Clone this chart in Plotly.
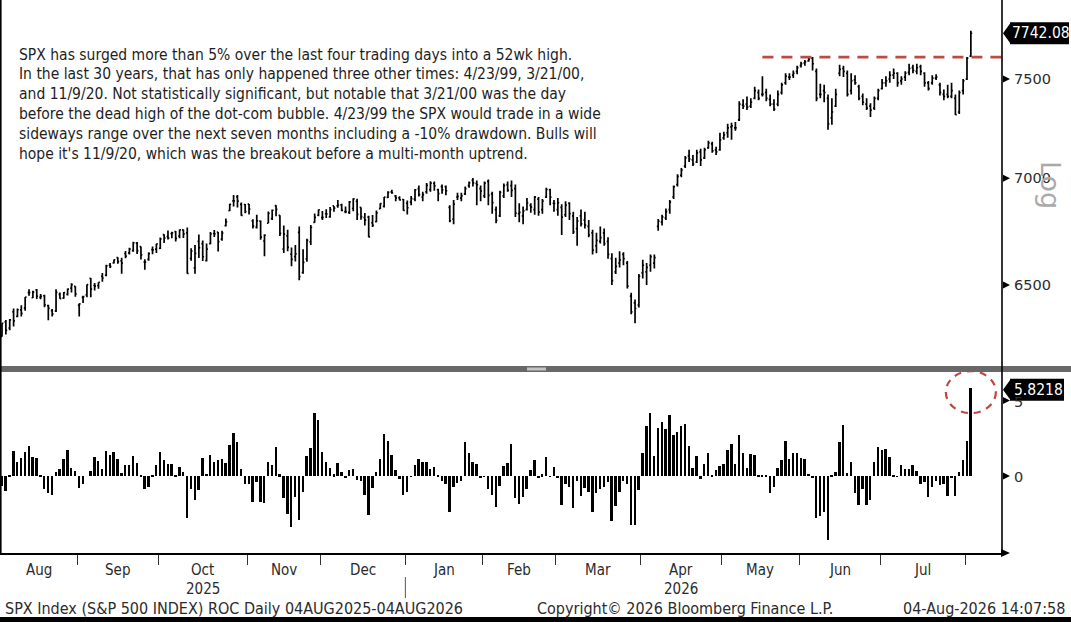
import math
import pandas as pd
import plotly.graph_objects as go

# ---------------- data ----------------
holidays = ["2025-09-01", "2025-11-27", "2025-12-25", "2026-01-01", "2026-01-19",
            "2026-02-16", "2026-04-03", "2026-05-25", "2026-06-19", "2026-07-03"]
dates = [d for d in pd.bdate_range("2025-08-04", "2026-08-04")
         if d.strftime("%Y-%m-%d") not in holidays]

opens = [
    # Aug 2025
    6271, 6336, 6309, 6380, 6360, 6389, 6397, 6466, 6443, 6478, 6445, 6452, 6408, 6386, 6384, 6458, 6441, 6458, 6486, 6494,
    # Sep
    6409, 6445, 6456, 6530, 6498, 6498, 6540, 6544, 6590, 6601, 6625, 6610, 6644, 6647, 6657, 6692, 6676, 6605, 6617, 6662, 6664,
    # Oct
    6668, 6732, 6722, 6736, 6746, 6725, 6754, 6740, 6621, 6578, 6700, 6690, 6611, 6690, 6737, 6743, 6711, 6774, 6845, 6891, 6911, 6875, 6874,
    # Nov
    6876, 6796, 6766, 6795, 6702, 6785, 6807, 6869, 6822, 6664, 6726, 6641, 6630, 6742, 6556, 6619, 6698, 6789, 6823,
    # Dec
    6812, 6830, 6815, 6867, 6867, 6872, 6840, 6837, 6855, 6889, 6860, 6812, 6814, 6787, 6793, 6854, 6865, 6908, 6935, 6915, 6906, 6898,
    # Jan 2026
    6880, 6885, 6900, 6950, 6910, 6935, 6945, 6975, 6945, 6960, 6960, 6860, 6805, 6910, 6905, 6925, 6965, 6990, 6975, 6950,
    # Feb
    6915, 6985, 6925, 6850, 6820, 6915, 6970, 6965, 6950, 6830, 6820, 6850, 6870, 6850, 6900, 6850, 6910, 6945, 6880,
    # Mar
    6850, 6860, 6825, 6880, 6820, 6760, 6820, 6800, 6770, 6740, 6680, 6700, 6740, 6700, 6620, 6560, 6600, 6640, 6600, 6450, 6420, 6410,
    # Apr
    6555, 6560, 6590, 6600, 6770, 6790, 6810, 6850, 6910, 6970, 7015, 7060, 7110, 7090, 7080, 7130, 7100, 7150, 7170, 7140, 7140,
    # May
    7200, 7225, 7255, 7250, 7290, 7365, 7370, 7360, 7400, 7430, 7420, 7430, 7395, 7370, 7370, 7430, 7480, 7510, 7520, 7540,
    # Jun
    7570, 7585, 7595, 7610, 7540, 7420, 7440, 7400, 7300, 7360, 7530, 7555, 7530, 7440, 7495, 7460, 7410, 7370, 7360, 7350, 7400,
    # Jul
    7450, 7480, 7500, 7520, 7530, 7490, 7510, 7535, 7560, 7540, 7565, 7530, 7480, 7480, 7505, 7470, 7420, 7420, 7410, 7400, 7330, 7440,
    # Aug 2026
    7500, 7620,
]

highs = [
    6330, 6344, 6349, 6395, 6395, 6410, 6446, 6481, 6474, 6482, 6460, 6456, 6412, 6393, 6481, 6466, 6469, 6484, 6508, 6495,
    6417, 6452, 6503, 6532, 6509, 6513, 6555, 6592, 6600, 6616, 6627, 6625, 6656, 6671, 6698, 6697, 6677, 6618, 6650, 6676, 6689,
    6718, 6733, 6751, 6745, 6749, 6756, 6756, 6765, 6668, 6683, 6732, 6704, 6690, 6744, 6753, 6744, 6750, 6808, 6878, 6920, 6919, 6883, 6876,
    6877, 6804, 6825, 6798, 6733, 6841, 6850, 6870, 6823, 6775, 6754, 6672, 6683, 6770, 6664, 6713, 6777, 6831, 6850,
    6843, 6851, 6862, 6867, 6895, 6878, 6865, 6891, 6904, 6902, 6861, 6834, 6820, 6824, 6845, 6880, 6910, 6937, 6945, 6920, 6913, 6900,
    6893, 6915, 6948, 6965, 6935, 6978, 6986, 6985, 6950, 6970, 6965, 6870, 6895, 6930, 6930, 6960, 6985, 7002, 6990, 6965,
    6985, 6995, 6935, 6865, 6940, 6975, 6985, 6990, 6970, 6880, 6865, 6905, 6880, 6915, 6910, 6900, 6955, 6950, 6895,
    6905, 6875, 6890, 6885, 6840, 6815, 6850, 6840, 6800, 6755, 6740, 6770, 6760, 6720, 6645, 6625, 6655, 6650, 6610, 6465, 6435, 6550,
    6615, 6600, 6640, 6640, 6805, 6825, 6855, 6895, 6965, 7020, 7050, 7110, 7140, 7115, 7140, 7145, 7150, 7185, 7180, 7155, 7225,
    7230, 7270, 7275, 7280, 7385, 7395, 7410, 7400, 7460, 7445, 7515, 7450, 7420, 7395, 7440, 7480, 7530, 7530, 7545, 7570,
    7590, 7600, 7620, 7615, 7555, 7475, 7470, 7420, 7400, 7450, 7575, 7570, 7545, 7530, 7520, 7470, 7425, 7400, 7375, 7410, 7450,
    7500, 7515, 7540, 7555, 7535, 7515, 7540, 7580, 7575, 7580, 7575, 7535, 7490, 7520, 7525, 7480, 7445, 7470, 7480, 7420, 7440, 7500,
    7615, 7755,
]

lows = [
    6271, 6281, 6299, 6316, 6356, 6360, 6385, 6452, 6442, 6437, 6436, 6401, 6343, 6360, 6380, 6438, 6438, 6453, 6466, 6447,
    6360, 6420, 6445, 6445, 6476, 6483, 6515, 6540, 6578, 6598, 6597, 6551, 6622, 6640, 6652, 6642, 6616, 6570, 6611, 6641, 6646,
    6665, 6693, 6709, 6715, 6700, 6715, 6716, 6551, 6611, 6551, 6623, 6609, 6607, 6687, 6721, 6653, 6703, 6770, 6843, 6865, 6860, 6821, 6832,
    6827, 6761, 6760, 6708, 6631, 6785, 6801, 6818, 6725, 6646, 6654, 6586, 6607, 6522, 6551, 6606, 6683, 6788, 6818,
    6800, 6810, 6811, 6840, 6858, 6842, 6832, 6829, 6842, 6801, 6802, 6775, 6720, 6768, 6790, 6852, 6860, 6905, 6925, 6890, 6893, 6844,
    6826, 6870, 6890, 6912, 6890, 6925, 6935, 6940, 6890, 6925, 6918, 6790, 6780, 6895, 6890, 6920, 6955, 6960, 6870, 6890,
    6905, 6870, 6830, 6785, 6815, 6905, 6935, 6910, 6815, 6790, 6780, 6845, 6835, 6825, 6820, 6830, 6905, 6870, 6840,
    6820, 6730, 6815, 6800, 6735, 6680, 6770, 6760, 6720, 6640, 6645, 6690, 6680, 6620, 6500, 6550, 6580, 6590, 6485, 6370, 6330, 6400,
    6530, 6500, 6560, 6575, 6750, 6775, 6800, 6830, 6900, 6960, 7005, 7050, 7080, 7060, 7075, 7060, 7095, 7145, 7125, 7115, 7135,
    7190, 7200, 7190, 7235, 7285, 7345, 7340, 7350, 7395, 7390, 7410, 7385, 7360, 7335, 7360, 7420, 7470, 7495, 7505, 7525,
    7560, 7570, 7590, 7545, 7385, 7400, 7380, 7240, 7265, 7355, 7515, 7510, 7410, 7420, 7470, 7390, 7365, 7340, 7305, 7340, 7390,
    7445, 7460, 7480, 7500, 7460, 7470, 7490, 7520, 7530, 7525, 7520, 7460, 7440, 7470, 7495, 7415, 7390, 7400, 7400, 7315, 7320, 7420,
    7495, 7615,
]

closes = [
    6329.94, 6299.19, 6345.06, 6340.00, 6389.45, 6373.45, 6445.76, 6466.58, 6468.54, 6449.80, 6449.15, 6411.37, 6395.78, 6370.17, 6466.91, 6439.32, 6465.94, 6481.40, 6501.86, 6460.26,
    6415.54, 6448.26, 6502.08, 6481.50, 6495.15, 6512.61, 6532.04, 6587.47, 6584.29, 6615.28, 6606.76, 6600.35, 6631.96, 6664.36, 6693.75, 6656.92, 6637.97, 6604.72, 6643.70, 6661.21, 6688.46,
    6711.20, 6715.35, 6715.79, 6740.28, 6714.59, 6753.72, 6735.11, 6552.51, 6654.72, 6644.31, 6671.06, 6629.07, 6664.01, 6735.13, 6735.35, 6699.40, 6738.44, 6791.69, 6875.16, 6890.89, 6890.59, 6822.34, 6840.20,
    6851.97, 6771.55, 6796.29, 6720.32, 6728.80, 6832.43, 6846.61, 6850.92, 6737.49, 6734.11, 6672.41, 6617.32, 6642.16, 6538.76, 6602.99, 6705.12, 6765.88, 6812.61, 6849.09,
    6812.63, 6829.37, 6849.72, 6857.12, 6870.40, 6846.51, 6840.51, 6886.68, 6901.00, 6827.41, 6816.51, 6800.26, 6721.43, 6774.76, 6834.50, 6878.49, 6909.79, 6932.05, 6929.94, 6905.74, 6896.24, 6845.50,
    6858.47, 6902.05, 6944.82, 6920.93, 6921.46, 6966.28, 6977.27, 6963.74, 6926.60, 6944.47, 6940.01, 6796.86, 6875.62, 6913.35, 6915.61, 6950.23, 6978.60, 6978.03, 6969.01, 6939.03,
    6976.44, 6917.81, 6882.72, 6798.40, 6932.30, 6964.82, 6941.81, 6941.47, 6832.76, 6836.17, 6843.22, 6881.31, 6861.89, 6909.51, 6837.75, 6890.07, 6946.13, 6908.86, 6878.88,
    6883, 6814, 6871, 6831, 6745, 6795, 6782, 6776, 6730, 6660, 6705, 6718, 6690, 6640, 6520, 6585, 6615, 6620, 6495, 6380, 6395, 6540,
    6590, 6580, 6630, 6625, 6795, 6815, 6840, 6885, 6960, 7010, 7040, 7100, 7095, 7070, 7125, 7090, 7140, 7175, 7135, 7130, 7190,
    7215, 7250, 7260, 7250, 7370, 7360, 7355, 7380, 7440, 7400, 7420, 7400, 7370, 7345, 7420, 7470, 7515, 7510, 7530, 7560,
    7580, 7590, 7605, 7580, 7400, 7420, 7430, 7270, 7330, 7420, 7550, 7540, 7420, 7490, 7480, 7400, 7380, 7350, 7340, 7400, 7440,
    7480, 7490, 7520, 7530, 7480, 7500, 7530, 7555, 7545, 7560, 7540, 7480, 7450, 7505, 7510, 7430, 7410, 7410, 7440, 7316.2, 7430, 7490,
    7610, 7742.08,
]

roc = [
    -0.64, -1.00, 0.09, 1.63, 0.94, 1.18, 1.59, 2.00, 1.24, 1.20, 0.05, -0.85, -1.12, -1.23, 0.28, 0.44, 1.10, 1.75, 0.54, 0.33,
    -0.78, -0.51, 0.00, 0.33, 1.24, 1.00, 0.46, 1.63, 1.37, 1.58, 1.14, 0.20, 0.72, 0.74, 1.32, 0.86, 0.09, -0.89, -0.75, 0.06, 0.76,
    1.61, 1.08, 0.82, 0.77, 0.05, 0.57, 0.29, -2.79, -0.89, -1.62, -0.95, 1.17, 0.14, 1.37, 0.96, 1.06, 1.12, 0.84, 2.08, 2.86, 2.26, 0.45, -0.51,
    -0.56, -1.73, -0.38, -1.75, -1.80, 0.90, 0.74, 1.94, 0.13, -1.44, -2.54, -3.41, -1.41, -2.90, -1.04, 1.33, 1.86, 4.19, 3.73,
    1.60, 0.94, 0.54, 0.12, 0.85, 0.25, -0.13, 0.43, 0.45, -0.28, -0.35, -1.25, -2.60, -0.77, 0.26, 1.15, 2.80, 2.32, 1.40, 0.40, -0.20, -1.25,
    -1.03, -0.05, 0.70, 1.10, 0.92, 0.93, 0.47, 0.62, 0.07, -0.31, -0.53, -2.40, -0.74, -0.45, -0.35, 2.26, 1.50, 0.94, 0.77, -0.16,
    -0.03, -0.86, -1.24, -2.03, -0.63, 0.68, 0.86, 2.10, -1.44, -1.85, -1.42, -0.87, 0.43, 1.07, -0.08, 0.13, 1.23, -0.01, 0.60,
    -0.10, -1.90, -0.55, -0.70, -2.10, -0.30, -1.30, -0.80, -1.05, -2.40, -1.15, -0.85, -0.70, -0.40, -2.95, -2.00, -1.05, -0.30, -0.50, -3.25, -3.25, -0.95,
    1.50, 3.30, 4.20, 1.35, 3.20, 3.60, 3.10, 4.05, 2.75, 2.90, 3.30, 3.45, 2.00, 0.55, 1.35, -0.20, 0.80, 1.55, 0.02, 0.40, 0.65,
    0.80, 1.70, 2.15, 0.80, 2.75, 1.50, 0.50, 1.45, 1.40, 0.05, 0.05, 0.05, -1.15, -0.70, 0.50, 1.05, 2.30, 1.15, 1.50, 1.50,
    1.20, 1.15, 0.15, -0.10, -2.80, -2.65, -2.40, -4.25, 0.05, 0.25, 2.25, 3.40, 0.20, 0.90, -1.10, -1.95, -0.85, -1.95, -1.60, 0.90, 1.90,
    1.75, 1.80, 1.25, 0.05, -0.05, 0.75, 0.45, 0.45, 0.75, 0.35, -0.55, -0.40, -1.40, -0.70, -0.35, -0.60, -0.55, -1.30, -0.10, -1.30, 0.25, 1.05,
    2.30, 5.8218,
]

month_labels = ["Aug", "Sep", "Oct", "Nov", "Dec", "Jan", "Feb", "Mar", "Apr", "May", "Jun", "Jul"]
year_labels = [("2025", "2025-10"), ("2026", "2026-04")]
price_ticks = [6500, 7000, 7500]
roc_ticks = [0, 5]
resistance_level = 7615
resistance_start = "2026-05-15"

note_lines = [
    "SPX has surged more than 5% over the last four trading days into a 52wk high.",
    "In the last 30 years, that has only happened three other times: 4/23/99, 3/21/00,",
    "and 11/9/20. Not statistically significant, but notable that 3/21/00 was the day",
    "before the dead high of the dot-com bubble. 4/23/99 the SPX would trade in a wide",
    "sideways range over the next seven months including a -10% drawdown. Bulls will",
    "hope it's 11/9/20, which was the breakout before a multi-month uptrend.",
]
footer_left = "SPX Index (S&P 500 INDEX) ROC Daily 04AUG2025-04AUG2026"
footer_mid = "Copyright\u00a9 2026 Bloomberg Finance L.P."
footer_right = "04-Aug-2026 14:07:58"

n = len(dates)
assert len(opens) == n and len(highs) == n and len(lows) == n and len(closes) == n and len(roc) == n, \
    (n, len(opens), len(highs), len(lows), len(closes), len(roc))
idx = list(range(n))
ym = [d.strftime("%Y-%m") for d in dates]
ymd = [d.strftime("%Y-%m-%d") for d in dates]

# ---------------- layout geometry ----------------
W, H = 1071, 622
PW, PH = 1002, 553          # plot area (pixels)
UP_BOT, LO_TOP = 365, 372    # panel boundaries (pixels from top)
X0, X1 = -0.52, 259.07       # x range in trading-day index
P_BOT, P_TOP = 6149, 7923    # price axis range
R_BOT, R_TOP = -5.10, 6.89   # ROC axis range


def pxx(x):
    return x / PW


def pxy(y):
    return (PH - y) / PH


def price_y(p):
    f = (math.log10(p) - math.log10(P_BOT)) / (math.log10(P_TOP) - math.log10(P_BOT))
    return UP_BOT - f * UP_BOT


def roc_y(v):
    f = (v - R_BOT) / (R_TOP - R_BOT)
    return PH - f * (PH - LO_TOP)


def idx_x(i):
    return (i - X0) / (X1 - X0) * PW


FONT = "DejaVu Sans"
CFONT = "DejaVu Sans Condensed, DejaVu Sans"
TXT = "#2b2b2b"

fig = go.Figure()
fig.add_trace(go.Ohlc(
    x=idx, open=opens, high=highs, low=lows, close=closes,
    increasing=dict(line=dict(color="black", width=1.7)),
    decreasing=dict(line=dict(color="black", width=1.7)),
    tickwidth=0.35, xaxis="x", yaxis="y", hoverinfo="skip", showlegend=False,
))
start_i = ymd.index(resistance_start)
fig.add_trace(go.Scatter(
    x=[start_i, X1], y=[resistance_level, resistance_level], mode="lines",
    line=dict(color="#bd4a43", width=2.6, dash="11px,8px"),
    xaxis="x", yaxis="y", hoverinfo="skip", showlegend=False,
))
fig.add_trace(go.Bar(
    x=idx, y=roc, width=0.5, marker=dict(color="black", line=dict(width=0)),
    xaxis="x2", yaxis="y2", hoverinfo="skip", showlegend=False,
))

# month boundaries and centres
month_keys = []
for k in ym:
    if k not in month_keys:
        month_keys.append(k)
month_start = {k: ym.index(k) for k in month_keys}
month_center = {k: (ym.index(k) + (len(ym) - 1 - ym[::-1].index(k))) / 2 for k in month_keys}
tick_pos = [month_start[k] - 0.5 for k in month_keys[1:]]

shapes = []
annotations = []

# panel separator + grip
shapes.append(dict(type="rect", xref="paper", yref="paper", x0=0, x1=pxx(W), y0=pxy(372), y1=pxy(366),
                   fillcolor="#686868", line=dict(width=0), layer="above"))
shapes.append(dict(type="rect", xref="paper", yref="paper", x0=pxx(527), x1=pxx(546), y0=pxy(370.5), y1=pxy(367.5),
                   fillcolor="#c4c4c4", line=dict(width=0), layer="above"))
# frame lines
shapes.append(dict(type="line", xref="paper", yref="paper", x0=pxx(PW), x1=pxx(PW), y0=pxy(0), y1=pxy(PH),
                   line=dict(color="black", width=1.6), layer="above"))
shapes.append(dict(type="line", xref="paper", yref="paper", x0=pxx(0.8), x1=pxx(0.8), y0=pxy(0), y1=pxy(PH),
                   line=dict(color="black", width=1.6), layer="above"))
# bottom axis arrow
shapes.append(dict(type="path", xref="paper", yref="paper",
                   path=f"M {pxx(1001)},{pxy(549)} L {pxx(1010)},{pxy(553)} L {pxx(1001)},{pxy(557)} Z",
                   fillcolor="black", line=dict(width=0), layer="above"))
# black strip at bottom
shapes.append(dict(type="rect", xref="paper", yref="paper", x0=0, x1=pxx(W), y0=pxy(622), y1=pxy(617),
                   fillcolor="black", line=dict(width=0), layer="above"))
# year divider
jan_i = month_start["2026-01"] - 0.5
shapes.append(dict(type="line", xref="paper", yref="paper", x0=pxx(idx_x(jan_i)), x1=pxx(idx_x(jan_i)),
                   y0=pxy(577), y1=pxy(598), line=dict(color="#555555", width=1)))
# red dashed circle around the last ROC bar
last_x = idx_x(n - 1)
ry_c = roc_y(roc[-1]) + 4
shapes.append(dict(type="circle", xref="paper", yref="paper",
                   x0=pxx(last_x - 25), x1=pxx(last_x + 25), y0=pxy(ry_c + 21), y1=pxy(ry_c - 21),
                   line=dict(color="#c0463f", width=2.2, dash="7px,6px"), layer="above"))
# redraw separator over the circle top
shapes.append(dict(type="rect", xref="paper", yref="paper", x0=pxx(900), x1=pxx(PW - 1), y0=pxy(372), y1=pxy(366),
                   fillcolor="#686868", line=dict(width=0), layer="above"))


def tri(ycen):
    return dict(type="path", xref="paper", yref="paper",
                path=f"M {pxx(1003)},{pxy(ycen - 3.5)} L {pxx(1010)},{pxy(ycen)} L {pxx(1003)},{pxy(ycen + 3.5)} Z",
                fillcolor="black", line=dict(width=0), layer="above")


for p in price_ticks:
    yc = price_y(p)
    shapes.append(tri(yc))
    annotations.append(dict(text=str(p), xref="paper", yref="paper", x=pxx(1012), y=pxy(yc),
                            xanchor="left", yanchor="middle", showarrow=False,
                            font=dict(family=FONT, size=14.5, color=TXT)))
for v in roc_ticks:
    yc = roc_y(v)
    shapes.append(tri(yc))
    annotations.append(dict(text=str(v), xref="paper", yref="paper", x=pxx(1012), y=pxy(yc + 1),
                            xanchor="left", yanchor="middle", showarrow=False,
                            font=dict(family=FONT, size=14.5, color=TXT)))


def tag(value_text, yc, right):
    shapes.append(dict(type="path", xref="paper", yref="paper",
                       path=f"M {pxx(1003)},{pxy(yc)} L {pxx(1011)},{pxy(yc - 11)} L {pxx(1011)},{pxy(yc + 11)} Z",
                       fillcolor="black", line=dict(width=0), layer="above"))
    shapes.append(dict(type="rect", xref="paper", yref="paper", x0=pxx(1010), x1=pxx(right),
                       y0=pxy(yc + 11), y1=pxy(yc - 11), fillcolor="black", line=dict(width=0), layer="above"))
    annotations.append(dict(text=value_text, xref="paper", yref="paper", x=pxx((1010 + right) / 2 + 1), y=pxy(yc),
                            xanchor="center", yanchor="middle", showarrow=False,
                            font=dict(family=CFONT, size=15.5, color="white")))


tag(f"{closes[-1]:.2f}", price_y(closes[-1]), 1069)
tag(f"{roc[-1]:.4f}", roc_y(roc[-1]) + 1.5, 1064)

annotations.append(dict(text="Log", xref="paper", yref="paper", x=pxx(1051), y=pxy(185),
                        xanchor="center", yanchor="middle", showarrow=False, textangle=90,
                        font=dict(family=FONT, size=27, color="#a9a9a9")))

for k, line in enumerate(note_lines):
    annotations.append(dict(text=line, xref="paper", yref="paper", x=pxx(17), y=pxy(54.5 + 19.9 * k),
                            xanchor="left", yanchor="middle", showarrow=False,
                            font=dict(family=CFONT, size=15.5, color="#1e1e1e")))

for lab, key in zip(month_labels, month_keys):
    annotations.append(dict(text=lab, xref="x2", yref="paper", x=month_center[key], y=pxy(570),
                            xanchor="center", yanchor="middle", showarrow=False,
                            font=dict(family=CFONT, size=15, color=TXT)))
for lab, key in year_labels:
    annotations.append(dict(text=lab, xref="x2", yref="paper", x=month_center[key], y=pxy(589),
                            xanchor="center", yanchor="middle", showarrow=False,
                            font=dict(family=CFONT, size=15, color=TXT)))

annotations.append(dict(text=footer_left, xref="paper", yref="paper", x=pxx(3), y=pxy(608),
                        xanchor="left", yanchor="middle", showarrow=False,
                        font=dict(family=CFONT, size=16, color=TXT)))
annotations.append(dict(text=footer_mid, xref="paper", yref="paper", x=pxx(685), y=pxy(608),
                        xanchor="center", yanchor="middle", showarrow=False,
                        font=dict(family=CFONT, size=16, color=TXT)))
annotations.append(dict(text=footer_right, xref="paper", yref="paper", x=pxx(1067), y=pxy(608),
                        xanchor="right", yanchor="middle", showarrow=False,
                        font=dict(family=CFONT, size=16, color=TXT)))

fig.update_layout(
    width=W, height=H, autosize=False,
    margin=dict(l=0, r=W - PW, t=0, b=H - PH, pad=0),
    paper_bgcolor="white", plot_bgcolor="white",
    showlegend=False, bargap=0,
    xaxis=dict(domain=[0, 1], range=[X0, X1], showticklabels=False, ticks="", showgrid=False,
               zeroline=False, showline=False, rangeslider=dict(visible=False), anchor="y", matches="x2"),
    yaxis=dict(domain=[pxy(UP_BOT), 1], type="log", range=[math.log10(P_BOT), math.log10(P_TOP)],
               showticklabels=False, ticks="", showgrid=False, zeroline=False, showline=False, anchor="x"),
    xaxis2=dict(domain=[0, 1], range=[X0, X1], anchor="y2", showgrid=False, zeroline=False,
                showline=True, linecolor="black", linewidth=1.6,
                tickmode="array", tickvals=tick_pos, ticktext=[""] * len(tick_pos),
                ticks="outside", ticklen=10, tickwidth=1, tickcolor="#333333", showticklabels=False),
    yaxis2=dict(domain=[0, pxy(LO_TOP)], range=[R_BOT, R_TOP], anchor="x2",
                showticklabels=False, ticks="", showgrid=False, zeroline=False, showline=False),
    shapes=shapes, annotations=annotations,
)

fig.write_html(
    "out.html",
    config={"displayModeBar": False},
    post_script="document.body.style.margin='0px';document.body.style.overflow='hidden';",
)
